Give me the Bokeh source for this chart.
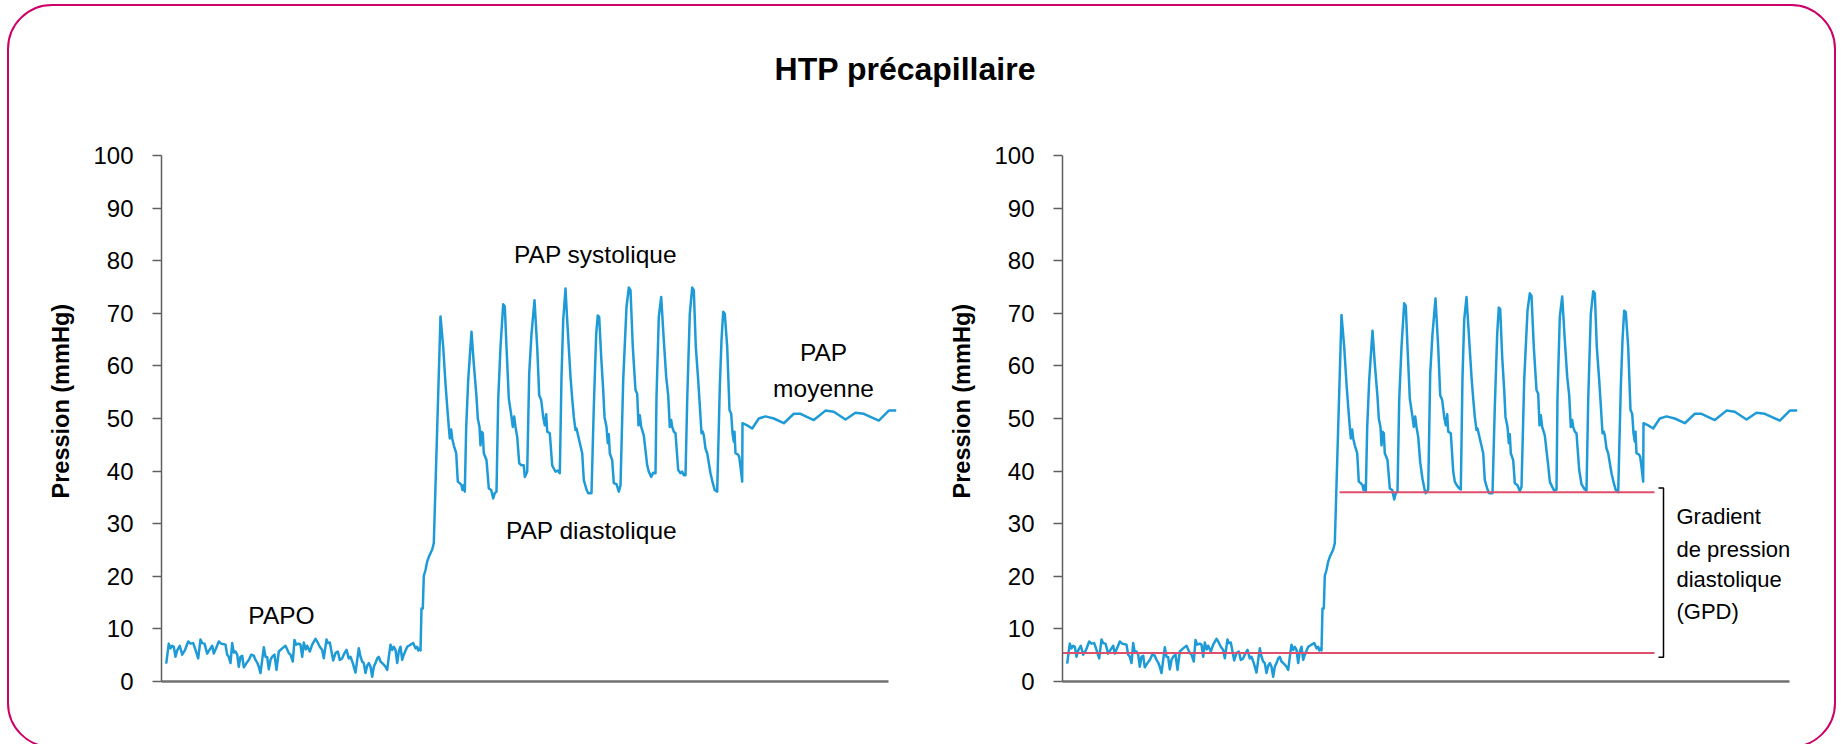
from bokeh.plotting import figure
from bokeh.models import Range1d, Div, FixedTicker, Title
from bokeh.layouts import column, row
from bokeh.embed import file_html
from bokeh.resources import INLINE
from bokeh.core.properties import value

TITRE = "HTP précapillaire"
Y_LABEL = "Pression (mmHg)"
y_ticks = [0, 10, 20, 30, 40, 50, 60, 70, 80, 90, 100]

# --- PAPO (pression capillaire, bruitée) ---
temps_papo = [
    4.7, 7.3, 9.0, 10.7, 12.3, 14.0, 15.7, 18.3, 20.7, 23.3,
    26.7, 29.0, 31.7, 34.0, 36.7, 39.0, 40.7, 43.0, 45.7, 48.3,
    50.7, 52.3, 55.0, 57.3, 59.7, 62.3, 64.0, 65.7, 67.3, 69.0,
    70.7, 72.3, 74.0, 75.7, 77.3, 79.0, 80.7, 82.3, 85.0, 87.3,
    89.7, 92.3, 94.0, 95.7, 97.3, 99.0, 100.7, 102.3, 104.0, 105.7,
    107.3, 109.0, 110.7, 113.0, 115.0, 117.3, 120.7, 124.0, 127.3, 129.0,
    131.3, 133.0, 134.7, 137.3, 139.0, 140.7, 142.3, 144.3, 145.7, 148.3,
    150.7, 154.0, 155.7, 158.3, 160.7, 162.3, 165.0, 166.3, 168.3, 169.7,
    171.7, 174.0, 176.3, 178.3, 180.7, 183.0, 185.0, 187.3, 189.0, 191.3,
    194.0, 195.7, 197.3, 199.0, 200.7, 202.3, 204.0, 205.7, 207.3, 209.0,
    210.7, 212.3, 214.0, 215.7, 217.3, 219.0, 220.7, 222.3, 224.0, 225.7,
    227.3, 229.0, 230.7, 232.3, 234.0, 235.7, 237.3, 239.0, 240.7, 242.3,
    245.7, 249.0, 251.7, 254.0, 255.7, 256.7, 258.3, 259.0,
]
pap_papo = [
    3.4, 7.2, 6.3, 6.8, 6.6, 4.7, 5.9, 6.8, 5.1, 5.9,
    7.6, 7.2, 7.3, 6.0, 4.4, 8.0, 7.3, 7.2, 5.3, 6.1,
    6.8, 5.3, 6.5, 7.6, 7.2, 7.1, 7.0, 5.1, 4.7, 3.5,
    7.3, 5.5, 5.7, 5.1, 2.8, 4.7, 4.9, 2.7, 3.5, 4.1,
    5.1, 4.9, 4.1, 3.6, 2.8, 1.6, 4.1, 6.5, 4.7, 4.6,
    2.3, 4.1, 4.7, 5.1, 2.2, 5.7, 6.3, 6.8, 5.4, 5.1,
    3.8, 7.9, 7.0, 7.2, 7.0, 4.7, 7.4, 6.1, 6.8, 5.7,
    7.0, 8.1, 7.6, 6.6, 6.0, 4.4, 8.0, 7.3, 7.4, 6.0,
    4.0, 5.4, 5.7, 4.1, 4.4, 5.4, 6.0, 4.4, 4.7, 3.5,
    1.7, 4.1, 6.3, 4.7, 3.8, 3.5, 1.6, 3.0, 3.5, 2.8,
    0.9, 2.8, 3.5, 4.4, 4.7, 3.8, 3.5, 3.2, 2.8, 2.2,
    4.7, 7.0, 6.0, 6.6, 6.0, 3.5, 5.7, 6.6, 4.1, 5.1,
    6.6, 7.0, 7.3, 6.3, 6.6, 5.9, 6.3, 5.9,
]

# --- montée du cathéter ---
temps_montee = [260.0, 261.3, 262.3, 264.0, 265.7, 267.3, 269.0, 270.7, 272.3]
pap_montee = [13.9, 13.9, 20.1, 21.2, 22.8, 23.7, 24.4, 25.1, 26.3]

# --- PAP pulsatile ---
temps_pulsatile = [
    279.0, 281.7, 284.0, 285.7, 287.3, 288.3, 289.7, 290.7, 292.3, 294.7, 296.3, 298.3, 300.0, 301.0, 302.3, 303.3, 304.7, 306.7,
    310.0, 312.3, 315.0, 316.3, 318.0, 319.0, 320.0, 321.3, 322.3, 325.0, 327.3, 329.7, 331.7, 333.3, 335.0, 336.7, 339.0,
    341.7, 343.3, 345.0, 347.3, 350.0, 351.3, 352.7, 354.0, 355.7, 357.7, 360.0, 362.3, 363.3, 365.7, 367.7, 370.0,
    373.0, 375.7, 377.7, 379.7, 381.7, 383.3, 384.7, 385.7, 388.3, 390.7, 392.3, 394.0, 396.3, 398.3, 400.0, 401.7,
    404.0, 405.7, 409.0, 410.7, 412.3, 414.0, 415.0, 417.3, 420.7, 422.3, 425.0, 426.7, 430.0, 432.3, 434.7,
    436.3, 437.7, 439.7, 441.7, 443.0, 445.0, 446.3, 447.3, 448.3, 450.7, 452.3, 455.0, 457.3, 459.0, 461.7, 465.0,
    467.3, 469.0, 471.3, 474.0, 475.7, 477.0, 478.3, 479.7, 482.3, 485.7, 487.3, 489.7, 491.7, 494.0, 495.0, 497.3,
    499.7, 502.3, 504.7, 506.7, 508.3, 509.7, 510.7, 512.3, 514.0, 516.7, 519.0, 520.7, 522.3, 524.0, 525.7, 528.3,
    530.7, 532.3, 534.3, 536.7, 538.3, 540.0, 541.3, 542.3, 544.0, 545.7, 549.0, 551.3, 553.3, 555.7, 558.3, 560.0,
    561.7, 563.3, 565.7, 568.0, 569.7, 571.0, 572.3, 573.0, 574.0, 576.3, 577.7, 579.0, 580.7,
]
pap_pulsatile_gauche = [
    69.4, 63.6, 56.6, 52.2, 48.4, 46.2, 47.9, 46.2, 44.9, 43.4, 38.0, 37.7, 37.3, 36.4, 37.3, 36.1, 48.4, 57.3,
    66.5, 60.4, 54.1, 50.0, 48.4, 44.9, 47.5, 47.2, 43.4, 42.1, 36.7, 36.4, 34.8, 35.8, 36.1, 53.5, 63.6,
    71.7, 71.3, 63.6, 53.8, 50.3, 48.4, 50.4, 48.4, 46.5, 41.5, 41.1, 41.1, 38.9, 39.9, 58.5, 66.1,
    72.5, 63.6, 54.4, 53.5, 50.3, 48.7, 50.8, 47.5, 47.2, 41.1, 40.5, 39.9, 40.1, 39.6, 57.9, 68.7,
    74.7, 68.7, 57.9, 53.8, 50.3, 47.8, 48.1, 46.2, 43.4, 38.3, 36.5, 35.8, 35.8, 52.2, 66.1,
    69.6, 69.3, 61.7, 55.4, 50.3, 48.4, 45.3, 47.0, 43.4, 42.1, 37.7, 37.5, 36.1, 37.3, 57.3, 71.2,
    74.9, 74.4, 63.6, 55.4, 54.7, 48.7, 50.6, 48.4, 46.8, 41.1, 39.9, 38.9, 39.7, 39.6, 54.1, 69.3,
    73.1, 64.9, 57.9, 54.4, 48.4, 49.7, 48.4, 47.5, 47.2, 40.2, 39.6, 39.9, 39.2, 39.2, 53.5, 69.9,
    74.9, 74.4, 63.6, 57.3, 52.5, 47.2, 47.5, 46.8, 44.3, 43.4, 39.6, 37.7, 36.4, 36.1, 56.0, 64.9,
    70.3, 69.9, 63.6, 51.6, 50.9, 47.2, 45.6, 47.5, 43.4, 43.2, 42.7, 40.8, 38.0,
]
pap_pulsatile_droite = [
    69.7, 63.6, 56.6, 52.2, 48.4, 46.2, 47.9, 46.2, 44.9, 43.4, 38.0, 37.7, 37.3, 36.4, 37.3, 36.1, 48.4, 57.3,
    66.7, 60.4, 54.1, 50.0, 48.4, 44.9, 47.5, 47.2, 43.4, 42.1, 36.7, 36.4, 34.6, 35.8, 36.1, 53.5, 63.6,
    71.9, 71.4, 63.6, 53.8, 50.3, 48.4, 50.4, 48.4, 46.5, 41.7, 38.5, 36.3, 35.8, 36.5, 58.5, 66.1,
    72.8, 63.6, 54.4, 53.5, 50.3, 48.7, 50.8, 47.5, 47.2, 40.0, 38.0, 37.4, 36.8, 36.5, 57.9, 68.7,
    73.1, 68.0, 57.9, 53.8, 50.3, 47.8, 48.1, 46.2, 43.4, 38.3, 36.5, 35.8, 35.8, 52.2, 66.1,
    71.1, 70.8, 61.7, 55.4, 50.3, 48.4, 45.3, 47.0, 43.4, 42.1, 37.7, 37.3, 36.2, 37.0, 57.3, 70.5,
    73.8, 73.3, 63.6, 55.4, 54.7, 48.7, 50.6, 48.4, 46.8, 41.1, 38.0, 37.0, 36.3, 36.5, 54.1, 69.3,
    73.2, 64.9, 57.9, 54.4, 48.4, 49.7, 48.4, 47.5, 47.2, 40.2, 37.5, 37.0, 36.5, 36.3, 53.5, 69.9,
    74.2, 73.8, 63.6, 57.3, 52.5, 47.2, 47.5, 46.8, 44.3, 43.4, 39.6, 37.7, 36.4, 36.0, 56.0, 64.9,
    70.5, 70.2, 63.6, 51.6, 50.9, 47.2, 45.6, 47.5, 43.4, 43.2, 42.7, 40.8, 38.0,
]

# --- PAP moyenne ---
temps_moyenne = [581.0, 585.7, 590.7, 597.3, 604.0, 612.3, 622.3, 632.3, 639.0,
                 652.3, 664.0, 672.3, 684.0, 694.0, 702.3, 717.3, 727.3, 734.7]
pap_moyenne = [49.1, 48.7, 48.1, 50.0, 50.4, 50.0, 49.1, 50.9, 50.9,
               49.7, 51.5, 51.3, 49.8, 51.1, 50.9, 49.6, 51.5, 51.5]

# --- annotations ---
annot_gauche_texte = ["PAPO", "PAP systolique", "PAP diastolique", "PAP", "moyenne"]
annot_gauche_x = [120, 434, 430, 662, 662]
annot_gauche_y = [11.1, 79.7, 27.2, 61.1, 54.1]

gpd_texte = ["Gradient", "de pression", "diastolique", "(GPD)"]
gpd_x = [614, 614, 614, 614]
gpd_y = [29.8, 23.6, 17.8, 11.7]

gpd_niveaux = [36.0, 5.4]
gpd_debut = [277, 0]
gpd_fin = [592, 592]
crochet_x = [596, 601, 601, 596]
crochet_y = [36.8, 36.8, 4.6, 4.6]

FONT = "'Liberation Sans', Arial, sans-serif"
BLEU = "#1e9bd7"
ROUGE = "#de4f6e"
GRIS = "#5f5f5f"


def make_fig(width, left, right, pulsatile):
    p = figure(width=width, height=664, x_range=Range1d(0, 737), y_range=Range1d(0, 100),
               output_backend="svg", toolbar_location=None,
               min_border_left=left, min_border_right=right,
               min_border_top=49, min_border_bottom=89, margin=0)
    p.outline_line_color = None
    p.xgrid.visible = False
    p.ygrid.visible = False
    p.background_fill_color = "white"
    p.border_fill_color = None

    p.xaxis.ticker = FixedTicker(ticks=[])
    p.xaxis.bounds = (0, 727)
    p.xaxis.axis_line_color = "#707070"
    p.xaxis.axis_line_width = 2.5
    p.xaxis.major_tick_line_color = None
    p.xaxis.minor_tick_line_color = None
    p.xaxis.major_label_text_font_size = "0px"

    p.yaxis.ticker = FixedTicker(ticks=y_ticks)
    p.yaxis.axis_line_color = GRIS
    p.yaxis.axis_line_width = 1.5
    p.yaxis.major_tick_line_color = GRIS
    p.yaxis.major_tick_line_width = 1.5
    p.yaxis.major_tick_out = 9
    p.yaxis.major_tick_in = 0
    p.yaxis.minor_tick_line_color = None
    p.yaxis.major_label_text_font = FONT
    p.yaxis.major_label_text_font_size = "24px"
    p.yaxis.major_label_text_color = "black"
    p.yaxis.major_label_standoff = 19

    p.add_layout(Title(text=Y_LABEL, align="left", offset=183, standoff=34,
                       text_font=FONT, text_font_style="bold", text_font_size="23.5px",
                       text_color="black"), "left")

    t = temps_papo + temps_montee + temps_pulsatile + temps_moyenne
    v = pap_papo + pap_montee + pulsatile + pap_moyenne
    p.line(t, v, line_color=BLEU, line_width=2.5, line_join="round")
    return p


p1 = make_fig(903, 152, 14, pap_pulsatile_gauche)
p1.text(x=annot_gauche_x, y=annot_gauche_y, text=annot_gauche_texte,
        text_font=value(FONT), text_font_size="24.5px", text_color="black",
        text_align="center", text_baseline="alphabetic", y_offset=-8)

p2 = make_fig(922, 150, 35, pap_pulsatile_droite)
p2.segment(x0=gpd_debut, y0=gpd_niveaux, x1=gpd_fin, y1=gpd_niveaux,
           line_color=ROUGE, line_width=2)
p2.line(crochet_x, crochet_y, line_color="black", line_width=1.5)
p2.text(x=gpd_x, y=gpd_y, text=gpd_texte,
        text_font=value(FONT), text_font_size="22px", text_color="black",
        text_align="left", text_baseline="alphabetic", y_offset=-8)

titre = Div(
    text=("<div style=\"font-family:'Liberation Sans',Arial,sans-serif;"
          "font-weight:bold;font-size:32px;line-height:37px;text-align:center;"
          f"padding-top:45px;color:#000;width:1792px\">{TITRE}</div>"),
    width=1792, height=100, margin=0)

inner = column(titre, row(p1, p2, margin=0, spacing=0), margin=(4, 0, 0, 7), spacing=0,
               styles={"border": "2px solid #cc0066", "border-radius": "45px",
                       "background-color": "white"})
layout = column(inner, width=1843, height=744, margin=0, sizing_mode="fixed",
                styles={"overflow": "hidden", "background-color": "white"})

open("out.html", "w").write(file_html(layout, INLINE, title="HTP précapillaire"))
